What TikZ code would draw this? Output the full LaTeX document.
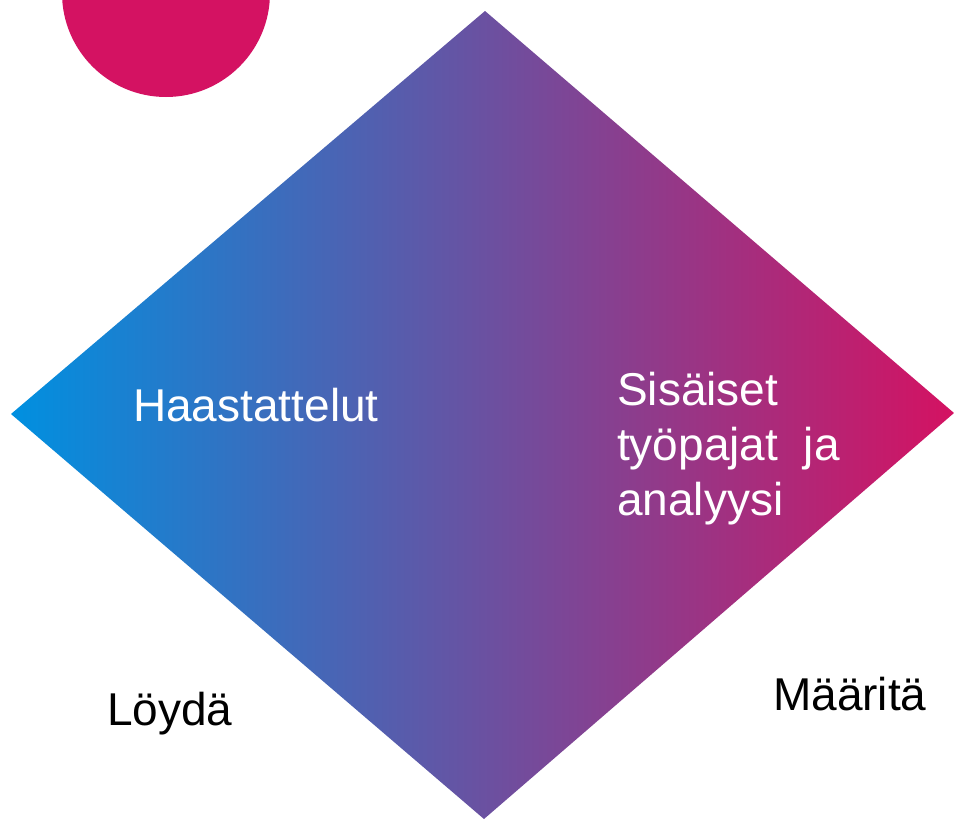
\documentclass[tikz,border=0pt]{standalone}
\usepackage{fontspec}
\setmainfont{Liberation Sans}
\definecolor{findblue}{RGB}{0,144,224}
\definecolor{definepink}{RGB}{212,18,98}

\begin{document}
\begin{tikzpicture}[x=1pt, y=-1pt]
\tikzset{phase/.style={shape=rectangle, draw=none, inner sep=0pt, anchor=base west,
    font=\fontsize{46}{55}\selectfont}}
%%%%%%%%%%%%%%%%%%%%%%%%%%%%%%%%%%%%%%%%%%% HELP LINES
%\draw[help lines, step=50pt] (0,0) grid (954,819);
\useasboundingbox (0,0) rectangle (954,819);
\clip (0,0) rectangle (954,819);

%%%%%%%%%%%%%%%%%%%%%%%%%%%%%%%%%%%%%%%%%%% elements
\fill[definepink] (166,-7) circle (104pt);
\shade[left color=findblue, right color=definepink]
    (11,414) -- (485,11) -- (954,413) -- (484,819) -- cycle;

%%%%% texts inside (base = last line)
\node[phase, text=white](haast) at (133,421){Haastattelut};
\node[phase, text=white, align=left](sisa) at (617,515){Sisäiset\\työpajat\ \ ja\\analyysi};

%%%%% phases below
\node[phase](loyda) at (107,725){Löydä};
\node[phase](maarita) at (773,710){Määritä};
\end{tikzpicture}
\end{document}
